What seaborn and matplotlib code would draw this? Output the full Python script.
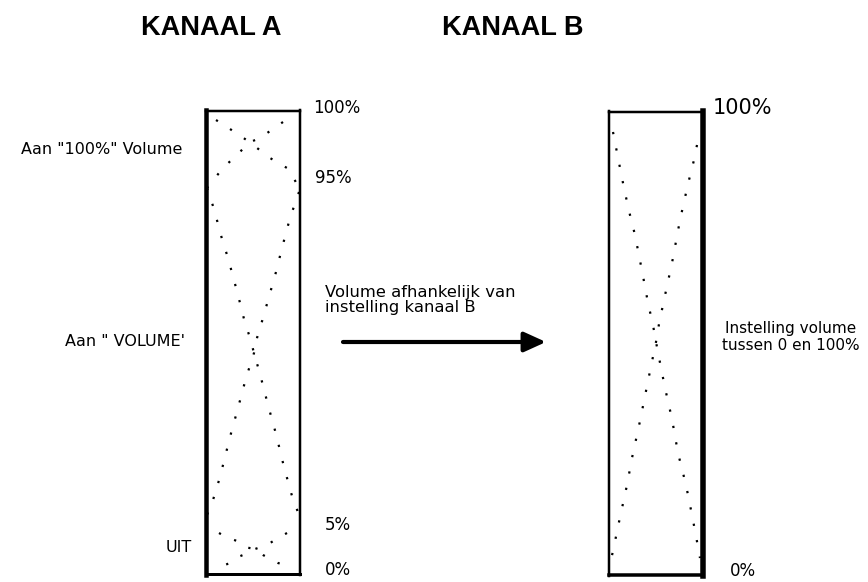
import matplotlib
matplotlib.use("Agg")
import matplotlib.pyplot as plt
import numpy as np
import pandas as pd
import seaborn as sns

# canvas in pixels, y downward
W, H = 868, 582

titles = ["KANAAL A", "KANAAL B"]
title_x = [211, 513]

# boxes: x0, x1, y0, y1
box_a = (205.5, 300, 111, 573.5)
box_b = (608.5, 703, 111.5, 574.5)
# edge widths (left, top, right, bottom) in px
edges_a = (4.5, 2.5, 2.5, 3)
edges_b = (2.5, 2.5, 5.5, 3.5)

# dotted volume curves
a_top_1_x = [216, 227, 248, 270, 287, 292, 299]
a_top_1_y = [120, 127, 141, 158, 168, 175, 188]
a_top_2_x = [283, 260, 248, 240, 223, 207]
a_top_2_y = [122, 138, 143, 152, 168, 188]
a_mid_1_x = [207, 214, 222, 228, 238, 244, 250, 254, 260, 268, 276, 284, 292, 299]
a_mid_1_y = [188, 209, 239, 258, 295, 319, 338, 353, 374, 405, 434, 467, 496, 515]
a_mid_2_x = [299, 290, 282, 276, 263, 257, 254, 246, 238, 230, 220, 213, 207]
a_mid_2_y = [192, 218, 248, 272, 318, 338, 353, 378, 408, 437, 477, 500, 515]
a_bot_1_x = [219, 226, 237, 244, 255, 263, 278, 285, 293]
a_bot_1_y = [533, 537, 541, 547, 549, 555, 563, 565, 568]
a_bot_2_x = [287, 278, 267, 255, 243, 238, 230, 217]
a_bot_2_y = [533, 538, 545, 549, 555, 557, 563, 568]
b_1_x = [613, 621, 624, 629, 635, 643, 648, 653, 656, 662, 667, 672, 678, 686, 692, 696, 700]
b_1_y = [132, 173, 188, 211, 235, 276, 303, 325, 342, 373, 397, 419, 453, 485, 515, 536, 558]
b_2_x = [697, 694, 688, 680, 672, 664, 659, 656, 648, 640, 632, 627, 619, 613, 610]
b_2_y = [145, 160, 184, 220, 263, 300, 324, 342, 381, 421, 458, 485, 522, 551, 564]

curves = [
    (a_top_1_x, a_top_1_y), (a_top_2_x, a_top_2_y),
    (a_mid_1_x, a_mid_1_y), (a_mid_2_x, a_mid_2_y),
    (a_bot_1_x, a_bot_1_y), (a_bot_2_x, a_bot_2_y),
    (b_1_x, b_1_y), (b_2_x, b_2_y),
]

left_labels = ['Aan "100%" Volume', 'Aan " VOLUME\'', "UIT"]
left_label_pos = [(182, 150), (185, 341), (192, 548)]
pct_a = ["100%", "95%", "5%", "0%"]
pct_a_pos = [(313, 108), (315, 178), (325, 525), (325, 570)]
pct_b = ["100%", "0%"]
pct_b_pos = [(713, 108), (730, 571)]
pct_b_size = [15, 12]
mid_text = "Volume afhankelijk van\ninstelling kanaal B"
right_text = "Instelling volume\ntussen 0 en 100%"

sns.set_theme(style="white")
plt.rcParams["font.family"] = ["DejaVu Sans"]

fig = plt.figure(figsize=(W / 100, H / 100), dpi=100)
ax = fig.add_axes([0, 0, 1, 1])

px = 0.72  # points per pixel at 100 dpi


def draw_box(b, e):
    x0, x1, y0, y1 = b
    ax.plot([x0, x0], [y0 - 1, y1 + 1], color="black", lw=e[0] * px, solid_capstyle="projecting")
    ax.plot([x0, x1], [y0, y0], color="black", lw=e[1] * px, solid_capstyle="projecting")
    ax.plot([x1, x1], [y0 - 1, y1 + 1], color="black", lw=e[2] * px, solid_capstyle="projecting")
    ax.plot([x0, x1], [y1, y1], color="black", lw=e[3] * px, solid_capstyle="projecting")


draw_box(box_a, edges_a)
draw_box(box_b, edges_b)

for cx, cy in curves:
    df = pd.DataFrame({"x": cx, "y": cy})
    sns.lineplot(data=df, x="x", y="y", sort=False, estimator=None, ax=ax,
                 color="black", lw=1.6, linestyle=(0, (1, 6.5)))
ax.set_xlim(0, W)
ax.set_ylim(H, 0)
ax.axis("off")

title_font = ["Liberation Sans", "DejaVu Sans"]
for t, x in zip(titles, title_x):
    ax.text(x, 28, t, family=title_font, fontweight="bold", fontsize=19.5,
            ha="center", va="center", color="black")

for t, (x, y) in zip(left_labels, left_label_pos):
    ax.text(x, y, t, fontsize=11.5, ha="right", va="center", color="black")
for t, (x, y) in zip(pct_a, pct_a_pos):
    ax.text(x, y, t, fontsize=12, ha="left", va="center", color="black")
for t, (x, y), s in zip(pct_b, pct_b_pos, pct_b_size):
    ax.text(x, y, t, fontsize=s, ha="left", va="center", color="black")

ax.text(325, 300, mid_text, fontsize=11.8, ha="left", va="center",
        linespacing=0.95, color="black")
ax.text(791, 337, right_text, fontsize=11, ha="center", va="center",
        linespacing=1.1, color="black")

ax.annotate("", xy=(546, 342), xytext=(343, 342),
            arrowprops=dict(arrowstyle="-|>,head_length=1.1,head_width=0.5",
                            color="black", lw=3, shrinkA=0, shrinkB=0))

fig.savefig("out.png", dpi=100, facecolor="white")
